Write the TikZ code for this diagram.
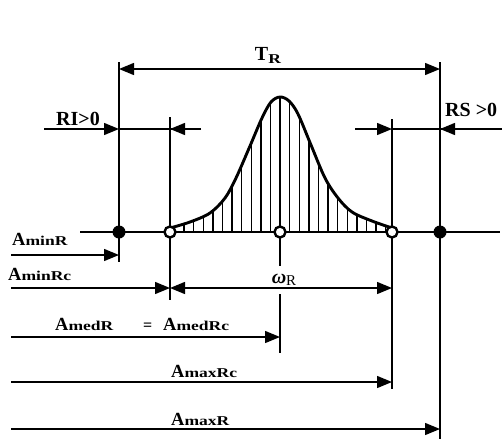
\documentclass[tikz,border=0pt]{standalone}
\usepackage{fontspec}
\setmainfont{Liberation Serif}
\newfontfamily\subf[FakeStretch=1.3]{Liberation Serif}
\usetikzlibrary{arrows.meta}
\newcommand\bigA{{\fontsize{18.5}{18.5}\selectfont\bfseries A}}
\newcommand\subtxt[1]{{\subf\fontsize{13.5}{13.5}\selectfont\bfseries #1}}
\newcommand\Alab[1]{\bigA\subtxt{#1}}
\begin{document}
\begin{tikzpicture}[x=1pt,y=-1pt,
  thinl/.style={line width=1.4pt},
  thickl/.style={line width=2.9pt},
  hatchl/.style={line width=1.4pt},
  tipr/.style={-{Triangle[length=15pt,width=12pt]}},
  tipb/.style={{Triangle[length=15pt,width=12pt]}-{Triangle[length=15pt,width=12pt]}},
  fdot/.style={circle,fill=black,inner sep=0pt,minimum size=13pt},
  odot/.style={circle,draw=black,fill=white,line width=2.4pt,inner sep=0pt,minimum size=11pt},
  lab/.style={inner sep=0pt,font=\fontsize{20}{20}\selectfont\bfseries}]
\useasboundingbox (0,0) rectangle (502,439);

% named points
\coordinate (bl) at (80,232);
\coordinate (br) at (500,232);

% hatching under the curve
\begin{scope}
\clip (170,232) -- plot[smooth,tension=0.55] coordinates {(170,228) (190,222) (210,213) (225,198) (236,178) (250,146) (262,118) (271,102) (280,97) (289,101) (298,114) (311,145) (325,178) (338,198) (352,212) (372,221) (392,228)} -- (392,232) -- cycle;
\foreach \k in {-12,...,12} \draw[hatchl] ({280+9.6*\k},240) -- ({280+9.6*\k},80);
\end{scope}
% curve
\draw[thickl,line join=round] plot[smooth,tension=0.55] coordinates {(170,228) (190,222) (210,213) (225,198) (236,178) (250,146) (262,118) (271,102) (280,97) (289,101) (298,114) (311,145) (325,178) (338,198) (352,212) (372,221) (392,228)};

% vertical extension lines
\coordinate (v1t) at (119,62);  \coordinate (v1b) at (119,262);
\coordinate (v2t) at (170,117); \coordinate (v2b) at (170,300);
\coordinate (v3t) at (280,232); \coordinate (v3b) at (280,353);
\coordinate (v4t) at (392,119); \coordinate (v4b) at (392,389);
\coordinate (v5t) at (440,62);  \coordinate (v5b) at (440,439);
\draw[thinl] (v1t) -- (v1b);
\draw[thinl] (v2t) -- (v2b);
\draw[thinl] (v3t) -- (v3b);
\draw[thinl] (v4t) -- (v4b);
\draw[thinl] (v5t) -- (v5b);

% baseline
\draw[thinl] (bl) -- (br);
\draw[thickl] (119,232) -- (440,232);

% points
\node[fdot] (p1) at (119,232) {};
\node[odot] (p2) at (170,232) {};
\node[odot] (p3) at (280,232) {};
\node[odot] (p4) at (392,232) {};
\node[fdot] (p5) at (440,232) {};

% T_R
\coordinate (tl) at (119,69); \coordinate (tr) at (440,69);
\draw[thinl,tipb] (tl) -- (tr);
\node[lab] (tlab) at (268,55) {T\raisebox{-3pt}{\subtxt{R}}};

% RI>0
\coordinate (ri0) at (44,129); \coordinate (ri1) at (119,129);
\coordinate (ri2) at (201,129); \coordinate (ri3) at (170,129);
\draw[thinl,tipr] (ri0) -- (ri1);
\draw[thinl] (ri1) -- (ri2);
\draw[thinl,tipr] (ri2) -- (ri3);
\node[lab] (rilab) at (78,119) {RI>0};

% RS>0
\coordinate (rs0) at (355,129); \coordinate (rs1) at (392,129);
\coordinate (rs2) at (502,129); \coordinate (rs3) at (440,129);
\draw[thinl,tipr] (rs0) -- (rs1);
\draw[thinl] (rs1) -- (rs2);
\draw[thinl,tipr] (rs2) -- (rs3);
\node[lab,anchor=west] (rslab) at (445,110) {RS >0};

% omega_R
\node[fill=white,inner sep=1pt,minimum height=28pt] (wlab) at (284,280)
  {{\fontsize{20}{20}\selectfont\bfseries\itshape ω}\raisebox{-1.5pt}{\fontsize{15}{15}\selectfont R}};
\coordinate (w0) at (170,288); \coordinate (w1) at (392,288);
\draw[thinl,tipb] (w0) -- (w1);

% A dimensions
\coordinate (a1s) at (11,255); \coordinate (a1e) at (119,255);
\coordinate (a2s) at (11,288); \coordinate (a2e) at (170,288);
\coordinate (a3s) at (11,337); \coordinate (a3e) at (280,337);
\coordinate (a4s) at (11,382); \coordinate (a4e) at (392,382);
\coordinate (a5s) at (11,429); \coordinate (a5e) at (440,429);
\draw[thinl,tipr] (a1s) -- (a1e);
\draw[thinl,tipr] (a2s) -- (a2e);
\draw[thinl,tipr] (a3s) -- (a3e);
\draw[thinl,tipr] (a4s) -- (a4e);
\draw[thinl,tipr] (a5s) -- (a5e);

\node[inner sep=0pt,anchor=base west] (l1) at (12,245) {\Alab{minR}};
\node[inner sep=0pt,anchor=base west] (l2) at (8,280) {\Alab{minRc}};
\node[inner sep=0pt,anchor=base west] (l3) at (55,330) {\Alab{medR}};
\node[inner sep=0pt,anchor=base west] (l3b) at (143,330) {{\fontsize{16}{16}\selectfont\bfseries =}};
\node[inner sep=0pt,anchor=base west] (l3c) at (163,330) {\Alab{medRc}};
\node[inner sep=0pt,anchor=base west] (l4) at (171,377) {\Alab{maxRc}};
\node[inner sep=0pt,anchor=base west] (l5) at (171,425) {\Alab{maxR}};
\end{tikzpicture}
\end{document}
